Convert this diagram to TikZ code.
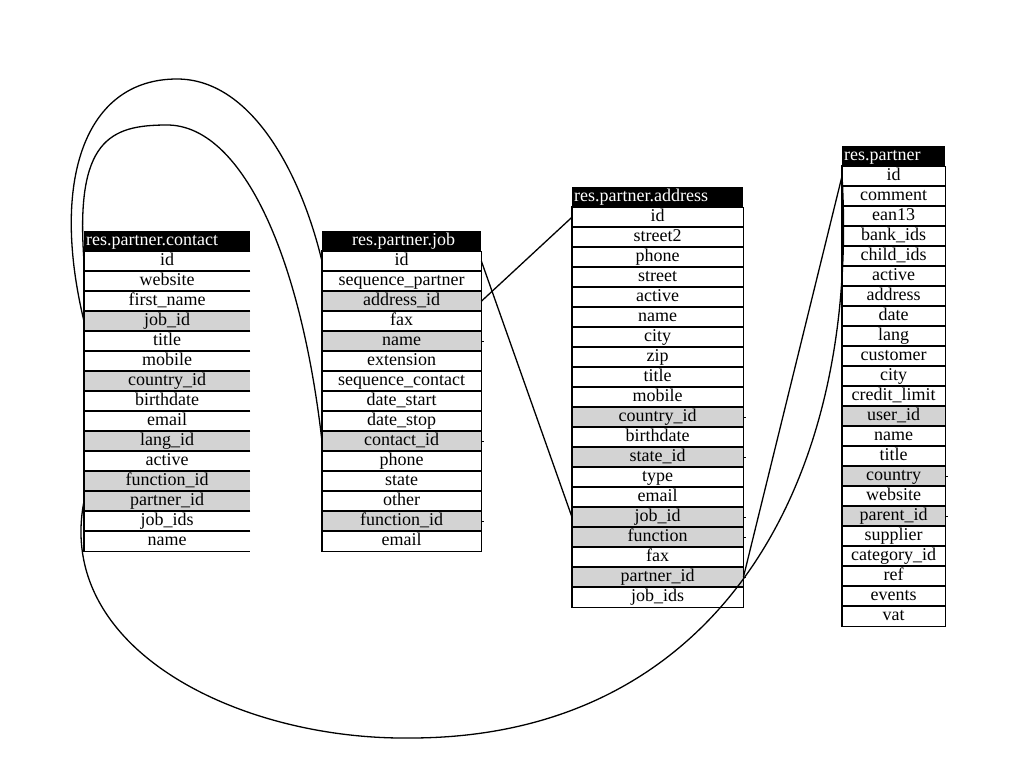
\documentclass[tikz,border=0pt]{standalone}
\usepackage{fontspec}
\setmainfont{Liberation Serif}
\usepackage{xcolor}
\usepackage{tikz}
\usetikzlibrary{positioning}

\definecolor{rowgray}{RGB}{211,211,211}

\tikzset{
  tblhead/.style={fill=black, inner sep=0pt, minimum height=20pt},
  tbltitle/.style={text=white, inner sep=0pt, text height=13pt, text depth=4pt,
    font=\fontsize{18}{20}\selectfont},
  tblrow/.style={inner sep=0pt, minimum height=20pt, text height=13pt, text depth=4pt,
    font=\fontsize{18}{20}\selectfont},
  tblline/.style={line width=1.2pt},
  link/.style={line width=1.3pt}
}

% #1 name, #2 x, #3 y, #4 width, #5 title anchor, #6 right side, #7 title, #8 rows
\newcommand{\ErTable}[8]{%
  \node[tblhead, minimum width=#4pt, anchor=north west] (#1-head) at (#2,#3) {};
  \node[tbltitle, anchor=#5] (#1-title) at ([xshift=2pt]#1-head.#5) {#7};
  \foreach \txt/\fl [count=\i] in {#8} {
    \node[tblrow, fill=\fl, minimum width=#4pt, anchor=north west] (#1-\i) at (#2,#3+\i*20) {\txt};
    \draw[tblline] (#1-\i.north east) -- (#1-\i.north west) -- (#1-\i.south west)
      -- (#1-\i.south east) #6;
  }
}

\begin{document}
\begin{tikzpicture}[x=1pt,y=-1pt]
  \useasboundingbox (0,0) rectangle (1024,768);

  \ErTable{contact}{84}{231}{166}{west}{}{res.partner.contact}{%
    id/white, website/white, first\_name/white, job\_id/rowgray, title/white,
    mobile/white, country\_id/rowgray, birthdate/white, email/white,
    lang\_id/rowgray, active/white, function\_id/rowgray, partner\_id/rowgray,
    job\_ids/white, name/white}

  \ErTable{job}{322}{231}{159}{center}{-- ++(0,-20)}{res.partner.job}{%
    id/white, sequence\_partner/white, address\_id/rowgray, fax/white,
    name/rowgray, extension/white, sequence\_contact/white, date\_start/white,
    date\_stop/white, contact\_id/rowgray, phone/white, state/white,
    other/white, function\_id/rowgray, email/white}

  \ErTable{address}{572}{187}{171}{west}{-- ++(0,-20)}{res.partner.address}{%
    id/white, street2/white, phone/white, street/white, active/white,
    name/white, city/white, zip/white, title/white, mobile/white,
    country\_id/rowgray, birthdate/white, state\_id/rowgray, type/white,
    email/white, job\_id/rowgray, function/rowgray, fax/white,
    partner\_id/rowgray, job\_ids/white}

  \ErTable{partner}{842}{146}{103}{west}{-- ++(0,-20)}{res.partner}{%
    id/white, comment/white, ean13/white, bank\_ids/white, child\_ids/white,
    active/white, address/white, date/white, lang/white, customer/white,
    city/white, credit\_limit/white, user\_id/rowgray, name/white, title/white,
    country/rowgray, website/white, parent\_id/rowgray, supplier/white,
    category\_id/white, ref/white, events/white, vat/white}

  % stubs
  \foreach \t in {job-5,job-10,job-14,address-11,address-13,address-16,
                  address-17,address-19,partner-16,partner-18}
    \draw[tblline] (\t.east) -- ++(3,0);

  \draw[link] (contact-4.west) .. controls (50,180) and (85,79) .. (177,79)
    .. controls (250,79) and (300,170) .. (job-1.west);
  \draw[link] (contact-1.west) .. controls (75,140) and (110,125) .. (167,125)
    .. controls (240,125) and (300,250) .. (job-10.west);
  \draw[link] (job-1.east) -- (address-16.west);
  \draw[link] (job-3.east) -- (address-1.west);
  \draw[link] (address-19.east) -- (partner-1.west);
  \draw[link] (contact-13.west) .. controls (55,650) and (240,740) .. (410,738)
    .. controls (720,738) and (860,480) .. (partner-1.west);
\end{tikzpicture}
\end{document}
